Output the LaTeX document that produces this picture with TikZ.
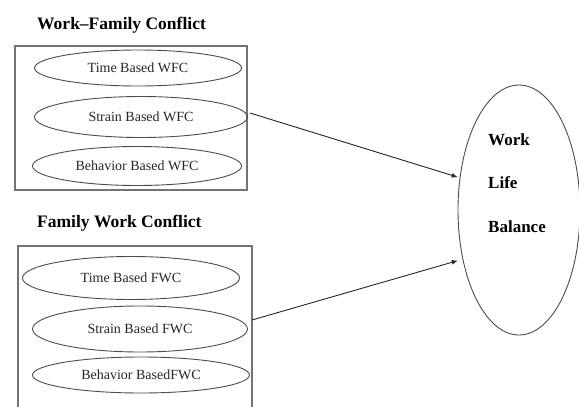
\documentclass[tikz,border=0pt]{standalone}
\usepackage{fontspec}
\setmainfont{Liberation Serif}
\usetikzlibrary{shapes.geometric,arrows.meta}
\begin{document}
\begin{tikzpicture}[x=1pt,y=-1pt,
  groupbox/.style={draw=black!55,line width=1.3pt,rectangle,inner sep=0pt},
  sub/.style={draw=black!70,line width=0.9pt,ellipse,inner sep=0pt,font=\fontsize{14}{16}\selectfont,text=black!85},
  title/.style={font=\fontsize{17.5}{19}\selectfont\bfseries,anchor=west,inner sep=0pt},
  wlbtext/.style={font=\fontsize{17}{19}\selectfont\bfseries,anchor=west,inner sep=0pt},
  big/.style={draw=black!70,line width=0.9pt,ellipse,inner sep=0pt},
  conn/.style={draw=black!85,line width=0.9pt,-{Latex[length=6pt,width=5pt]}}]
\clip (0,0) rectangle (579,407);
\fill[white] (0,0) rectangle (579,407);
% titles
\node[title] (t1) at (37,25) {Work–Family Conflict};
\node[title] (t2) at (37,223) {Family Work Conflict};
% boxes
\node[groupbox,minimum width=232pt,minimum height=144pt] (box1) at (131,118) {};
\node[groupbox,minimum width=234pt,minimum height=180pt] (box2) at (135,336) {};
% sub ellipses
\node[sub,minimum width=207pt,minimum height=36pt] (e1) at (138,68) {Time Based WFC};
\node[sub,minimum width=213pt,minimum height=41pt] (e2) at (141,117) {Strain Based WFC};
\node[sub,minimum width=209pt,minimum height=39pt] (e3) at (137,166) {Behavior Based WFC};
\node[sub,minimum width=217pt,minimum height=43pt] (e4) at (131,278) {Time Based FWC};
\node[sub,minimum width=215pt,minimum height=46pt] (e5) at (140,329) {Strain Based FWC};
\node[sub,minimum width=217pt,minimum height=36pt] (e6) at (141,375) {Behavior BasedFWC};
% big ellipse
\node[big,minimum width=122pt,minimum height=250pt] (wlb) at (519,210) {};
\node[wlbtext] (w1) at (488,140) {Work};
\node[wlbtext] (w2) at (488,183) {Life};
\node[wlbtext] (w3) at (488,227) {Balance};
% connectors
\coordinate (s1) at ([shift={(2,-4)}]e2.east);
\coordinate (s2) at (252,320);
\draw[conn] (s1) -- ([xshift=-2pt]wlb.151);
\draw[conn] (s2) -- ([xshift=-5pt]wlb.222);
\end{tikzpicture}
\end{document}
